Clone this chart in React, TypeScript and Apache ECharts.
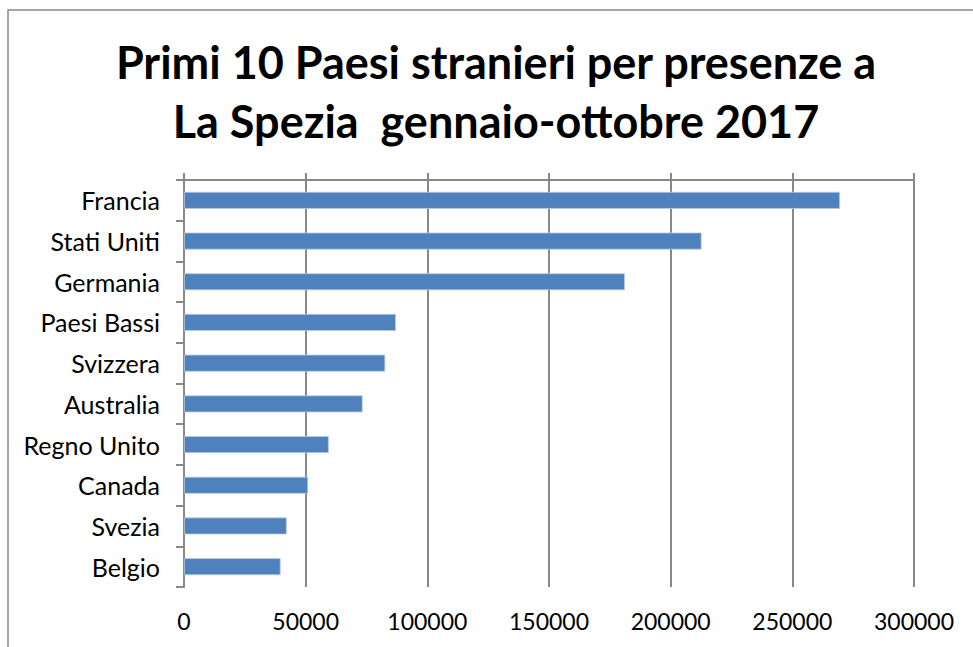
import React, { useEffect, useRef } from "react";
import * as echarts from "echarts";

const categories = [
  "Francia",
  "Stati Uniti",
  "Germania",
  "Paesi Bassi",
  "Svizzera",
  "Australia",
  "Regno Unito",
  "Canada",
  "Svezia",
  "Belgio",
];
const presenze = [269600, 212700, 181200, 87100, 82700, 73400, 59500, 51000, 42200, 39700];
const titleLines = ["Primi 10 Paesi stranieri per presenze a", "La Spezia  gennaio-ottobre 2017"];

const FONT = "Lato, Carlito, Calibri, sans-serif";
const GRID_COLOR = "#888888";

export default function App() {
  const ref = useRef<HTMLDivElement>(null);
  useEffect(() => {
    if (!ref.current) return;
    const chart = echarts.init(ref.current, undefined, { renderer: "svg" });
    chart.setOption({
      animation: false,
      backgroundColor: "#ffffff",
      title: {
        text: titleLines.join("\n"),
        left: 491,
        top: 27,
        textAlign: "center",
        textStyle: {
          fontFamily: FONT,
          fontWeight: "bold",
          fontSize: 45,
          lineHeight: 59,
          color: "#000000",
        },
      },
      graphic: [
        {
          type: "rect",
          shape: { x: 8, y: 10, width: 1100, height: 800 },
          style: { fill: "none", stroke: GRID_COLOR, lineWidth: 1.5 },
          silent: true,
          z: -1,
        },
      ],
      grid: { left: 184, right: 59, top: 180, bottom: 60, containLabel: false },
      xAxis: [
        {
          type: "value",
          position: "bottom",
          min: 0,
          max: 300000,
          interval: 50000,
          axisLine: { show: false },
          axisTick: { show: false },
          axisLabel: {
            fontFamily: FONT,
            fontSize: 23,
            color: "#000000",
            margin: 22,
            formatter: (v: number) => String(v),
          },
          splitLine: { show: true, lineStyle: { color: GRID_COLOR, width: 2 } },
        },
        {
          type: "value",
          position: "top",
          min: 0,
          max: 300000,
          interval: 50000,
          axisLine: { show: true, lineStyle: { color: GRID_COLOR, width: 2 } },
          axisTick: { show: true, length: 7, inside: false, lineStyle: { color: GRID_COLOR, width: 2 } },
          axisLabel: { show: false },
          splitLine: { show: false },
        },
      ],
      yAxis: {
        type: "category",
        data: categories,
        inverse: true,
        axisLine: { show: true, lineStyle: { color: GRID_COLOR, width: 2 } },
        axisTick: { show: true, length: 8, inside: false, lineStyle: { color: GRID_COLOR, width: 2 } },
        axisLabel: { fontFamily: FONT, fontSize: 25, color: "#000000", margin: 24 },
      },
      series: [
        {
          type: "bar",
          data: presenze,
          xAxisIndex: 0,
          barWidth: 17,
          itemStyle: { color: "#4f81bd", borderColor: "#b9cde5", borderWidth: 0.8 },
        },
      ],
    });
    return () => chart.dispose();
  }, []);
  return (
    <div
      ref={ref}
      style={{ position: "fixed", left: 0, top: 0, width: 973, height: 647 }}
    />
  );
}
